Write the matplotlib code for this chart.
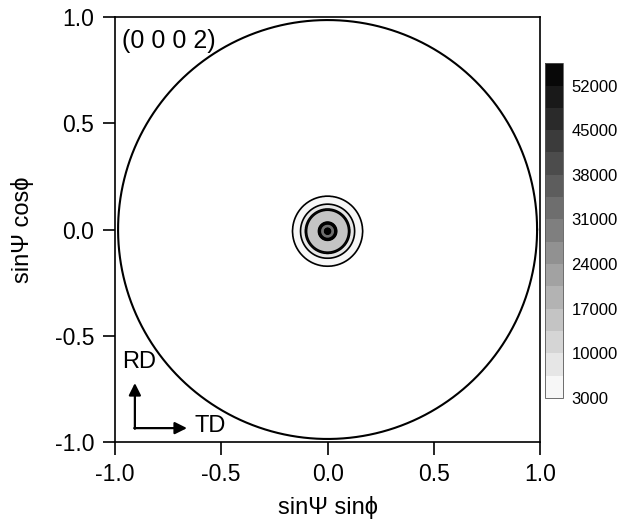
import numpy as np
import matplotlib
matplotlib.use("Agg")
import matplotlib.pyplot as plt

plt.rcParams['font.family'] = ['Liberation Sans', 'DejaVu Sans']

# radial intensity profile of the (0002) pole figure
ring_r = [0.0, 0.008, 0.014, 0.034, 0.044, 0.098, 0.104, 0.127, 0.165, 0.175, 1.5]
ring_val = [56000, 50000, 33000, 32000, 15000, 14000, 10000, 6500, 3000, 0, 0]

levels = [3000 + 3500 * k for k in range(16)]
cbar_ticks = [3000, 10000, 17000, 24000, 31000, 38000, 45000, 52000]
axis_ticks = [-1.0, -0.5, 0.0, 0.5, 1.0]

x = np.linspace(-1, 1, 1201)
X, Y = np.meshgrid(x, x)
R = np.hypot(X, Y + 0.008)
Z = np.interp(R, ring_r, ring_val)

fig = plt.figure(figsize=(6.21, 5.27), dpi=100)
ax = fig.add_axes([0.185, 0.161, 0.685, 0.807])

cf = ax.contourf(X, Y, Z, levels=levels, cmap='gray_r', extend='neither')
ax.contour(X, Y, Z, levels=levels, colors='black', linewidths=1.2)

# outer boundary of the pole figure
th = np.linspace(0, 2 * np.pi, 400)
ax.plot(0.985 * np.cos(th), 0.985 * np.sin(th), color='black', lw=1.5)

ax.set_xlim(-1, 1)
ax.set_ylim(-1, 1)
ax.set_xticks(axis_ticks)
ax.set_yticks(axis_ticks)
ax.set_xticklabels(['%.1f' % t for t in axis_ticks])
ax.set_yticklabels(['%.1f' % t for t in axis_ticks])
ax.tick_params(direction='out', length=9, width=1.2, labelsize=16.5, pad=6)
for s in ax.spines.values():
    s.set_linewidth(1.2)

ax.set_xlabel('sin\u03a8 sin\u03d5', fontsize=17, labelpad=7)
ax.set_ylabel('sin\u03a8 cos\u03d5', fontsize=17, labelpad=15)

ax.text(-0.967, 0.887, '(0 0 0 2)', fontsize=18, ha='left', va='center')

# RD / TD direction arrows
ax.annotate('', xy=(-0.906, -0.722), xytext=(-0.906, -0.937),
            arrowprops=dict(arrowstyle='-|>', color='black', lw=1.6, mutation_scale=18,
                            shrinkA=0, shrinkB=0))
ax.annotate('', xy=(-0.661, -0.934), xytext=(-0.909, -0.934),
            arrowprops=dict(arrowstyle='-|>', color='black', lw=1.6, mutation_scale=18,
                            shrinkA=0, shrinkB=0))
ax.text(-0.887, -0.624, 'RD', fontsize=17, ha='center', va='center')
ax.text(-0.553, -0.925, 'TD', fontsize=17, ha='center', va='center')

cax = fig.add_axes([0.878, 0.245, 0.029, 0.635])
cb = fig.colorbar(cf, cax=cax, ticks=cbar_ticks)
cb.ax.tick_params(length=0, labelsize=12, pad=6)
cb.outline.set_linewidth(0.6)
cb.outline.set_edgecolor('#555555')

fig.savefig('out.png', dpi=100)
